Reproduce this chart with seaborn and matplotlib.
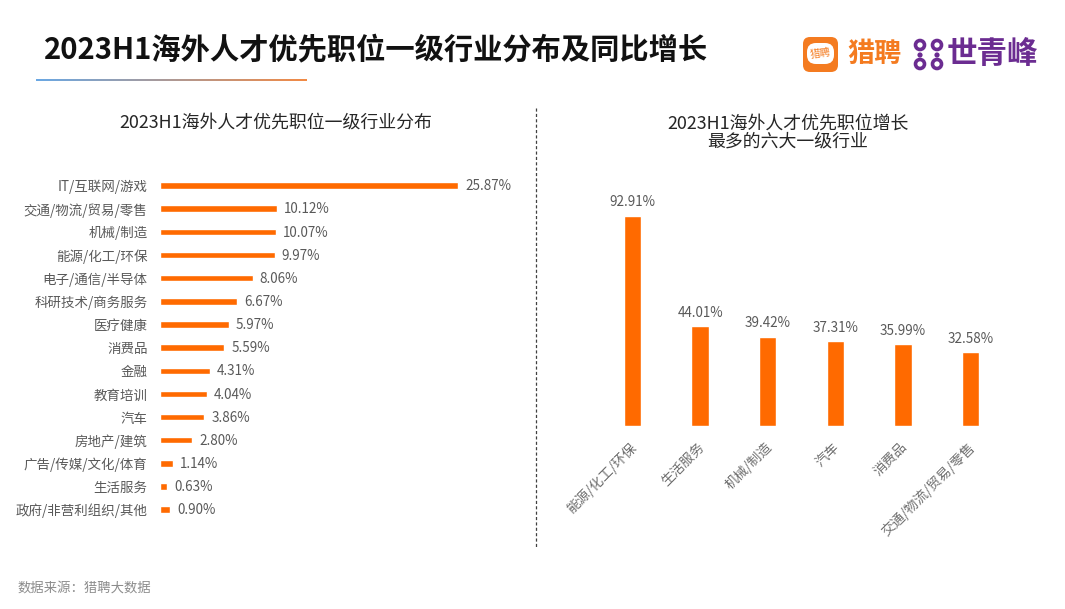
import numpy as np
import pandas as pd
import matplotlib
matplotlib.use("Agg")
import matplotlib.pyplot as plt
from matplotlib.lines import Line2D
from matplotlib.patches import FancyBboxPatch, Circle
from matplotlib.transforms import ScaledTranslation
import seaborn as sns

left_categories = ["IT/互联网/游戏", "交通/物流/贸易/零售", "机械/制造", "能源/化工/环保",
                   "电子/通信/半导体", "科研技术/商务服务", "医疗健康", "消费品", "金融",
                   "教育培训", "汽车", "房地产/建筑", "广告/传媒/文化/体育", "生活服务",
                   "政府/非营利组织/其他"]
left_values = [25.87, 10.12, 10.07, 9.97, 8.06, 6.67, 5.97, 5.59, 4.31, 4.04, 3.86, 2.80, 1.14, 0.63, 0.90]
right_categories = ["能源/化工/环保", "生活服务", "机械/制造", "汽车", "消费品", "交通/物流/贸易/零售"]
right_values = [92.91, 44.01, 39.42, 37.31, 35.99, 32.58]
title = "2023H1海外人才优先职位一级行业分布及同比增长"
left_title = "2023H1海外人才优先职位一级行业分布"
right_title = "2023H1海外人才优先职位增长\n最多的六大一级行业"
source = "数据来源\uff1a猎聘大数据"

W, H = 1065, 609
ORANGE = "#FF6A00"
PURPLE = "#6B2C91"
LOGO_OR = "#F47B20"

sns.set_theme(style="white")
plt.rcParams["font.family"] = ["Noto Sans CJK SC", "DejaVu Sans"]

fig = plt.figure(figsize=(W / 100, H / 100), dpi=100, facecolor="white")


def rect(x0, y0, x1, y1):
    return [x0 / W, 1 - y1 / H, (x1 - x0) / W, (y1 - y0) / H]


def ftext(x, y, s, **kw):
    kw.setdefault("va", "center")
    return fig.text(x / W, 1 - y / H, s, **kw)


# left chart
axl = fig.add_axes(rect(160, 174.0, 460, 521.2))
dfl = pd.DataFrame({"cat": left_categories, "val": left_values})
sns.barplot(data=dfl, y="cat", x="val", color=ORANGE, saturation=1, width=0.28, ax=axl)
axl.set_xlim(0, 300 / 298 * 25.87)
axl.set(xlabel="", ylabel="", xticks=[])
axl.tick_params(axis="y", length=0, pad=9, labelsize=9.7, labelcolor="#595959")
for i, v in enumerate(left_values):
    axl.annotate(f"{v:.2f}%", (v, i), xytext=(5, -0.5), textcoords="offset points",
                 va="center", ha="left", fontsize=9.7, color="#595959", annotation_clip=False)
sns.despine(ax=axl, left=True, bottom=True)

# right chart
axr = fig.add_axes(rect(598.7, 199.5, 1004.3, 426))
dfr = pd.DataFrame({"cat": right_categories, "val": right_values})
sns.barplot(data=dfr, x="cat", y="val", color=ORANGE, saturation=1, width=0.26, ax=axr)
axr.set_ylim(0, 226.5 / 210.5 * 92.91)
axr.set(xlabel="", ylabel="", yticks=[])
axr.tick_params(axis="x", length=0, pad=10, labelsize=9.8, labelcolor="#6E6E6E")
shift = ScaledTranslation(-3 / 72 * 0.72, 0, fig.dpi_scale_trans)
for lab in axr.get_xticklabels():
    lab.set_rotation(45)
    lab.set_ha("right")
    lab.set_rotation_mode("anchor")
    lab.set_transform(lab.get_transform() + shift)
for i, v in enumerate(right_values):
    axr.annotate(f"{v:.2f}%", (i, v), xytext=(0, 4.5), textcoords="offset points",
                 va="bottom", ha="center", fontsize=9.7, color="#595959")
sns.despine(ax=axr, left=True, bottom=True)

# headings
ftext(44, 49, title, fontsize=21.1, fontweight="bold", color="#111111")
ftext(276, 123, left_title, fontsize=12.9, color="#262626", ha="center")
ftext(788, 133, right_title, fontsize=12.9, color="#262626", ha="center", linespacing=1.0)
ftext(18, 588, source, fontsize=9.6, color="#8C8C8C")

# gradient rule under the title
axg = fig.add_axes(rect(36, 79, 307, 81))
c0, c1 = np.array(matplotlib.colors.to_rgb("#6AA8E4")), np.array(matplotlib.colors.to_rgb("#F28A45"))
t = np.linspace(0, 1, 256)[None, :, None]
axg.imshow(c0 + (c1 - c0) * t, aspect="auto")
axg.axis("off")

# dashed divider
fig.add_artist(Line2D([536 / W, 536 / W], [1 - 108 / H, 1 - 547 / H], color="#404040", lw=0.9,
                      ls=(0, (2.5, 1.8))))

# logo: drawn on a pixel-coordinate overlay
axo = fig.add_axes([0, 0, 1, 1], facecolor="none")
axo.set_xlim(0, W)
axo.set_ylim(H, 0)
axo.axis("off")
axo.add_patch(FancyBboxPatch((803, 37), 35, 35, boxstyle="round,pad=0,rounding_size=7",
                             fc=LOGO_OR, ec="none"))
axo.add_patch(FancyBboxPatch((807, 43), 27, 21, boxstyle="round,pad=0,rounding_size=9",
                             fc="white", ec="none"))
axo.text(820.5, 53.5, "猎聘", fontsize=7.5, color=LOGO_OR, ha="center", va="center", rotation=8)
axo.text(847, 54, "猎聘", fontsize=19.5, fontweight="bold", color=LOGO_OR, ha="left", va="center")
axo.text(947, 54, "世青峰", fontsize=22, fontweight="bold", color=PURPLE, ha="left", va="center")
for cx in (920, 937):
    for cy in (45, 64):
        axo.add_patch(Circle((cx, cy), 4.5, fc="none", ec=PURPLE, lw=2.6))
    axo.add_patch(Circle((cx, 55), 2.6, fc=PURPLE, ec="none"))

fig.savefig("out.png", dpi=100, facecolor="white")
